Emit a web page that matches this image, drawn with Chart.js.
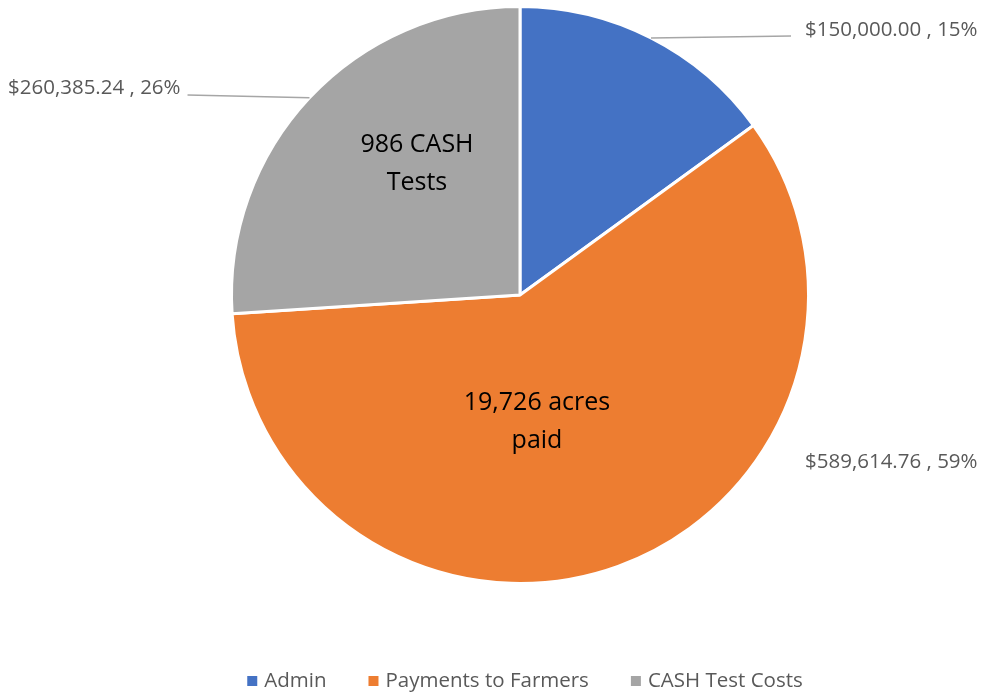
<!DOCTYPE html>
<html>
<head>
  <meta charset="utf-8">
  <title>CASH Program Costs</title>
  <style>
    body { margin: 0; background: #FFF; }
    .wrap { width: 991px; height: 692px; position: relative; }
  </style>
</head>
<body>
  <div class="wrap"><canvas id="pieChart" width="991" height="692"></canvas></div>
  <script src="https://cdn.jsdelivr.net/npm/chart.js"></script>
  <script>
    // chart data
    const categories = ['Admin', 'Payments to Farmers', 'CASH Test Costs'];
    const amounts = [150000.00, 589614.76, 260385.24];
    const percents = [15, 59, 26];
    const innerNotes = [null, ['19,726 acres', 'paid'], ['986 CASH', 'Tests']];
    const colors = ['#4472C4', '#ED7D31', '#A5A5A5'];

    const FONT = '"Open Sans", "Liberation Sans", sans-serif';

    function money(v) {
      return '$' + v.toLocaleString('en-US', { minimumFractionDigits: 2, maximumFractionDigits: 2 });
    }

    // draws outer value labels, leader lines, inner notes and the legend
    const labelPlugin = {
      id: 'labels',
      afterDraw(chart) {
        const ctx = chart.ctx;
        const arcs = chart.getDatasetMeta(0).data;
        ctx.save();

        // outer labels
        ctx.font = '20.5px ' + FONT;
        ctx.textBaseline = 'middle';
        arcs.forEach((arc, i) => {
          const p = arc.getProps(['x', 'y', 'startAngle', 'endAngle', 'outerRadius']);
          const mid = (p.startAngle + p.endAngle) / 2;
          const ex = p.x + Math.cos(mid) * p.outerRadius;
          const ey = p.y + Math.sin(mid) * p.outerRadius;
          const text = money(amounts[i]) + ' , ' + percents[i] + '%';
          const w = ctx.measureText(text).width;
          let tx, ty;
          if (i === 0) { tx = p.x + 285; ty = p.y - 265; }
          else if (i === 1) { tx = p.x + 285; ty = p.y + 167; }
          else { tx = p.x - 512; ty = p.y - 207; }

          if (i !== 1) {
            ctx.strokeStyle = '#A6A6A6';
            ctx.lineWidth = 1.5;
            ctx.beginPath();
            ctx.moveTo(ex, ey);
            if (i === 0) ctx.lineTo(tx - 14, ty + 6);
            else ctx.lineTo(tx + w + 7, ty + 7);
            ctx.stroke();
          }
          ctx.fillStyle = '#595959';
          ctx.textAlign = 'left';
          ctx.fillText(text, tx, ty);
        });

        // inner notes
        ctx.font = '25px ' + FONT;
        ctx.fillStyle = '#000';
        ctx.textAlign = 'center';
        arcs.forEach((arc, i) => {
          if (!innerNotes[i]) return;
          const p = arc.getProps(['x', 'y']);
          const cx = i === 1 ? p.x + 17 : p.x - 103;
          const cy = i === 1 ? p.y + 127 : p.y - 131;
          innerNotes[i].forEach((line, k) => ctx.fillText(line, cx, cy - 19 + k * 38));
        });

        // legend
        ctx.font = '20.5px ' + FONT;
        ctx.textAlign = 'left';
        const gap = 42, box = 10;
        const widths = categories.map(c => box + 7 + ctx.measureText(c).width);
        const total = widths.reduce((a, b) => a + b, 0) + gap * (categories.length - 1);
        let lx = 525 - total / 2;
        const ly = 681;
        categories.forEach((c, i) => {
          ctx.fillStyle = colors[i];
          ctx.fillRect(lx, ly - box / 2, box, box);
          ctx.fillStyle = '#595959';
          ctx.fillText(c, lx + box + 7, ly);
          lx += widths[i] + gap;
        });

        ctx.restore();
      }
    };

    new Chart(document.getElementById('pieChart'), {
      type: 'pie',
      data: {
        labels: categories,
        datasets: [{
          data: amounts,
          backgroundColor: colors,
          borderColor: '#FFFFFF',
          borderWidth: 3
        }]
      },
      options: {
        responsive: false,
        animation: false,
        layout: { padding: { left: 230, right: 181, top: 5, bottom: 107 } },
        plugins: {
          legend: { display: false },
          tooltip: { enabled: false }
        }
      },
      plugins: [labelPlugin]
    });
  </script>
</body>
</html>
